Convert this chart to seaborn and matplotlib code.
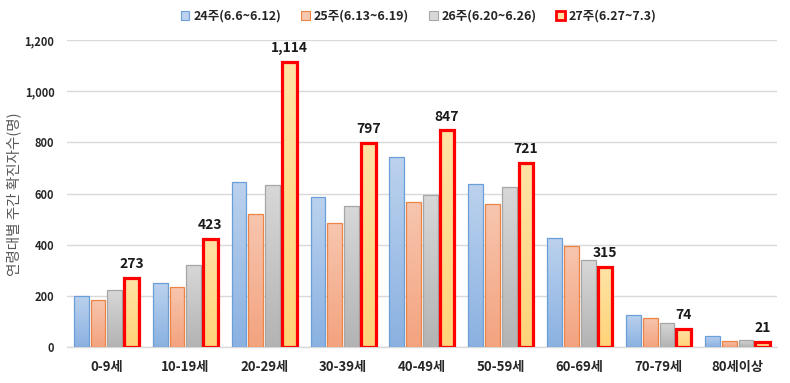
import numpy as np
import pandas as pd
import matplotlib
matplotlib.use("Agg")
import matplotlib.pyplot as plt
import matplotlib.colors as mcolors
from matplotlib.patches import Patch
from matplotlib.ticker import FuncFormatter
import seaborn as sns

categories = ["0-9세", "10-19세", "20-29세", "30-39세", "40-49세",
              "50-59세", "60-69세", "70-79세", "80세이상"]
series_names = ["24주(6.6~6.12)", "25주(6.13~6.19)", "26주(6.20~6.26)", "27주(6.27~7.3)"]
week24 = [200, 251, 647, 586, 742, 637, 426, 125, 43]
week25 = [184, 236, 522, 485, 567, 559, 396, 117, 27]
week26 = [225, 322, 635, 551, 597, 625, 343, 97, 31]
week27 = [273, 423, 1114, 797, 847, 721, 315, 74, 21]
y_ticks = [0, 200, 400, 600, 800, 1000, 1200]
y_label = "연령대별 주간 확진자수(명)"

sns.set_theme(style="white")
plt.rcParams['font.family'] = ['Noto Sans CJK KR', 'DejaVu Sans']

rows = []
for name, vals in zip(series_names, [week24, week25, week26, week27]):
    for c, v in zip(categories, vals):
        rows.append({"age": c, "week": name, "count": v})
df = pd.DataFrame(rows)

top_cols = ["#BCD2EE", "#F7C6AF", "#D8D8D8", "#FFE3A6"]
bot_cols = ["#8AB1E1", "#F3A37F", "#B3B3B3", "#FFD378"]
edge_cols = ["#6A9FD8", "#EE8444", "#A6A6A6", "#FF0000"]
edge_lws = [0.9, 0.9, 0.9, 2.3]

fig = plt.figure(figsize=(7.9, 3.83), dpi=100)
ax = fig.add_axes([0.0848, 0.0927, 0.8987, 0.8029])

sns.barplot(data=df, x="age", y="count", hue="week", order=categories,
            hue_order=series_names, palette=top_cols, width=0.85, gap=0.12,
            ax=ax, legend=False, zorder=2)

ax.set_xlim(-0.5, 8.5)
ax.set_ylim(0, 1200)

for i, cont in enumerate(ax.containers):
    cmap = mcolors.LinearSegmentedColormap.from_list("g%d" % i, [bot_cols[i], top_cols[i]])
    grad = np.linspace(0, 1, 256).reshape(-1, 1)
    for p in cont.patches:
        x0, y0 = p.get_x(), p.get_y()
        w, h = p.get_width(), p.get_height()
        im = ax.imshow(grad, cmap=cmap, origin="lower", aspect="auto",
                       extent=[x0, x0 + w, y0, y0 + h], zorder=1.9,
                       interpolation="bilinear")
        im.set_clip_path(p)
        p.set_facecolor("none")
        p.set_edgecolor(edge_cols[i])
        p.set_linewidth(edge_lws[i])
        p.set_zorder(2.1)

ax.set_xlim(-0.5, 8.5)
ax.set_ylim(0, 1200)

ax.bar_label(ax.containers[3], labels=[f"{v:,}" for v in week27], padding=5,
             fontsize=10, fontweight="bold", color="#1a1a1a")

ax.set_yticks(y_ticks)
ax.yaxis.set_major_formatter(FuncFormatter(lambda v, _: f"{int(v):,}"))
ax.grid(axis="y", color="#D9D9D9", linewidth=1.0, zorder=0)
ax.set_axisbelow(True)
for s in ax.spines.values():
    s.set_visible(False)
ax.plot([-0.5, 8.5], [0, 0], color="#D9D9D9", lw=1.0, zorder=1, clip_on=False)

ax.tick_params(axis="both", length=0)
ax.tick_params(axis="y", pad=9)
ax.tick_params(axis="x", pad=9)
for t in ax.get_yticklabels():
    t.set_fontsize(8)
    t.set_fontweight("bold")
    t.set_color("#262626")
for t in ax.get_xticklabels():
    t.set_fontsize(9.5)
    t.set_fontweight("bold")
    t.set_color("#262626")

ax.set_xlabel("")
ax.set_ylabel(y_label, fontsize=10.5, color="#595959")
ax.yaxis.set_label_coords(-0.064, 0.5)

handles = [Patch(facecolor=top_cols[i], edgecolor=edge_cols[i],
                 linewidth=(0.8 if i < 3 else 2.0)) for i in range(4)]
leg = fig.legend(handles, series_names, loc="center", bbox_to_anchor=(0.530, 0.958),
                 ncol=4, frameon=False, handlelength=0.7, handleheight=0.7,
                 handletextpad=0.3, columnspacing=1.6,
                 prop={"size": 9.0, "weight": "bold"})
for t in leg.get_texts():
    t.set_color("#262626")

fig.savefig("out.png", dpi=100)
